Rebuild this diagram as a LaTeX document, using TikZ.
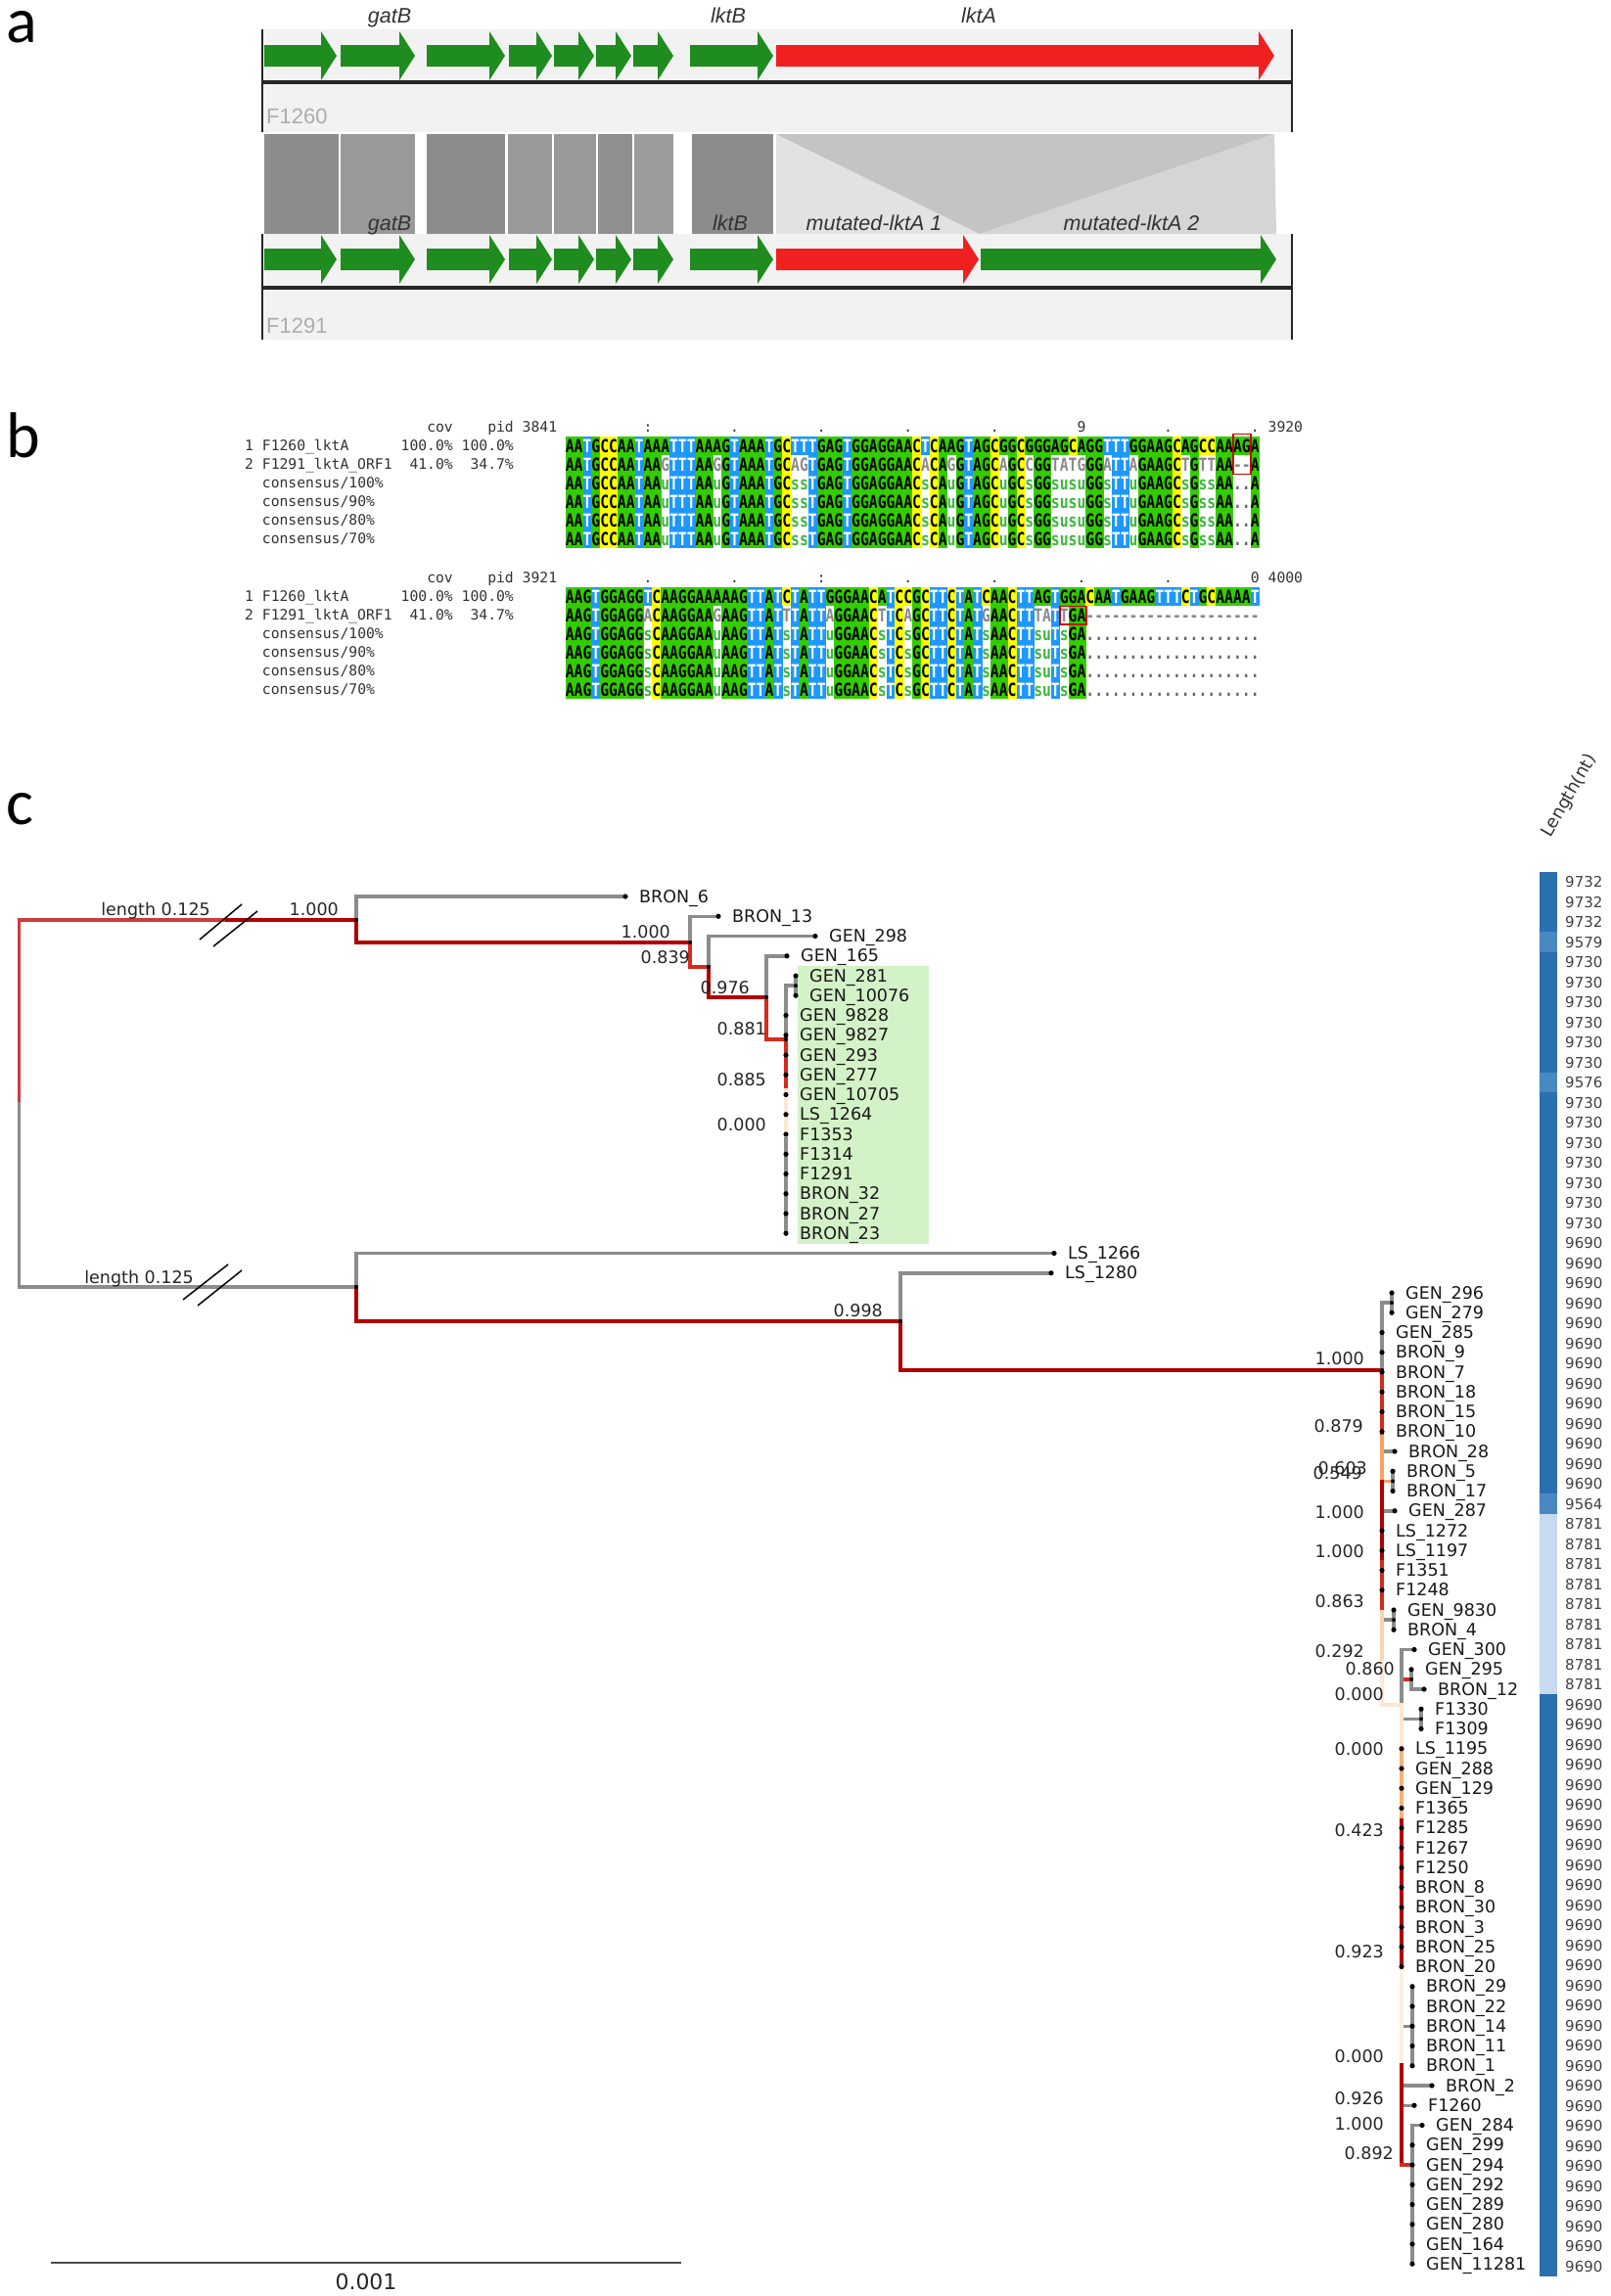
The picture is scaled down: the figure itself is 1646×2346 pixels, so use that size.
\documentclass[tikz,border=0pt]{standalone}
\usepackage{fontspec}
\usepackage{graphicx}
\setmainfont{DejaVu Sans}
\newfontfamily\monof{DejaVu Sans Mono}
\newfontfamily\arialf{Liberation Sans}
\newfontfamily\carlf{Carlito}

\definecolor{tg}{HTML}{8C8C8C}
\definecolor{dr}{HTML}{B20000}
\definecolor{mr}{HTML}{D42B1E}
\definecolor{lr}{HTML}{D03A3A}
\definecolor{orng}{HTML}{F4A460}
\definecolor{sandy}{HTML}{F6B27A}
\definecolor{pch}{HTML}{FBD3AE}
\definecolor{lp}{HTML}{FDE7D2}
\definecolor{vlp}{HTML}{FDF0E2}
\definecolor{hlgreen}{HTML}{D4F2C7}
\definecolor{lendark}{HTML}{2A6FB0}
\definecolor{lenmid}{HTML}{4A88C2}
\definecolor{lenlight}{HTML}{C6DBEF}
\definecolor{ntgreen}{HTML}{33CC00}
\definecolor{ntyellow}{HTML}{FFFF00}
\definecolor{ntblue}{HTML}{1E98FF}
\definecolor{consgreen}{HTML}{3DB83D}
\definecolor{mmgray}{HTML}{8A8A8A}
\definecolor{dotgray}{HTML}{666677}
\definecolor{trackbg}{HTML}{F2F2F2}
\definecolor{geneg}{HTML}{1F8C1F}
\definecolor{gener}{HTML}{F02020}
\definecolor{cmpL}{HTML}{E2E2E2}
\definecolor{cmpM}{HTML}{C4C4C4}
\definecolor{cmpR}{HTML}{D5D5D5}

\tikzset{
  br/.style={line width=3.5pt, line cap=rect, line join=miter},
  tiplab/.style={anchor=base west, inner sep=0pt, text=black!90, font=\fontsize{17.5}{20}\selectfont},
  suplab/.style={anchor=base east, inner sep=0pt, text=black!85, font=\fontsize{17.5}{20}\selectfont},
  lennum/.style={anchor=base west, inner sep=0pt, text=black!75, font=\fontsize{15}{17}\selectfont},
  sqt/.style={anchor=base, inner sep=0pt, font=\monof\bfseries\fontsize{14.7}{16}\selectfont},
  monolab/.style={anchor=base west, inner sep=0pt, text=black!80, font=\monof\fontsize{14.7}{16}\selectfont},
  rulerch/.style={anchor=base, inner sep=0pt, text=black!80, font=\monof\fontsize{14.7}{16}\selectfont},
  genelab/.style={anchor=base, inner sep=0pt, text=black!80, font=\arialf\itshape\fontsize{21.5}{24}\selectfont},
  tracklab/.style={anchor=base west, inner sep=0pt, text=black!32, font=\arialf\fontsize{22}{24}\selectfont},
  panlab/.style={anchor=base west, inner sep=0pt, text height=33pt, text depth=0pt, font=\carlf\fontsize{66}{70}\selectfont},
  brk/.style={line width=1.5pt, black},
}

% ---------- tree helpers
\newcommand\treetip[4]{\coordinate (#1) at (#2,#3); \node[tiplab] (#1l) at ({#2+14},{#3+6.2}) {#4};}
\newcommand\supl[4]{\node[suplab] (#1) at (#2,{#3+6.2}) {#4};}

% ---------- gene arrow
\newcommand\garrow[4]{\fill[#4] (#1,{#3-11}) -- ({#2-16},{#3-11}) -- ({#2-16},{#3-25}) -- (#2,#3) -- ({#2-16},{#3+25}) -- ({#2-16},{#3+11}) -- (#1,{#3+11}) -- cycle;}

% ---------- alignment helpers
\newcount\sqk
\def\sqrun#1#2#3#4{\def\sqpass{#1}\def\sqy{#2}\def\sqname{#3}\sqk=0 \sqloop#4\relax}
\def\sqloop#1{\ifx#1\relax\let\sqnext\relax\else\def\sqnext{\sqcell{#1}\global\advance\sqk by 1 \sqloop}\fi\sqnext}
\def\sqcell#1{\pgfmathsetmacro\sqx{577.8+\the\sqk*8.86}\csname sq\sqpass#1\endcsname}
\def\sqboth#1#2#3{\sqrun{F}{#1}{#2}{#3}\sqrun{T}{#1}{#2}{#3}}
\def\sqbg#1{\fill[#1] (\sqx,\sqy) rectangle ++(9.3,19.4);}
\def\sqtx#1#2{\node[sqt,text=#1] (\sqname-\the\sqk) at ({\sqx+4.43},{\sqy+16.2}) {\scalebox{1}[1.25]{#2}};}
\expandafter\def\csname sqFA\endcsname{\sqbg{ntgreen}}
\expandafter\def\csname sqFG\endcsname{\sqbg{ntgreen}}
\expandafter\def\csname sqFC\endcsname{\sqbg{ntyellow}}
\expandafter\def\csname sqFT\endcsname{\sqbg{ntblue}}
\expandafter\def\csname sqTA\endcsname{\sqtx{black}{A}}
\expandafter\def\csname sqTG\endcsname{\sqtx{black}{G}}
\expandafter\def\csname sqTC\endcsname{\sqtx{black}{C}}
\expandafter\def\csname sqTT\endcsname{\sqtx{white}{T}}
\expandafter\def\csname sqTa\endcsname{\sqtx{mmgray}{A}}
\expandafter\def\csname sqTg\endcsname{\sqtx{mmgray}{G}}
\expandafter\def\csname sqTc\endcsname{\sqtx{mmgray}{C}}
\expandafter\def\csname sqTt\endcsname{\sqtx{mmgray}{T}}
\expandafter\def\csname sqTu\endcsname{\sqtx{consgreen}{u}}
\expandafter\def\csname sqTs\endcsname{\sqtx{consgreen}{s}}
\expandafter\def\csname sqT-\endcsname{\sqtx{mmgray}{-}}
\expandafter\def\csname sqT.\endcsname{\sqtx{dotgray}{.}}
\newcommand\blab[4]{\node[monolab] (#1) at ({250+#2*8.86},#3) {#4};}
\newcommand\rch[4]{\node[rulerch] (#1) at ({577.8+#2*8.86+4.43},#3) {#4};}

\begin{document}
\begin{tikzpicture}[x=1pt,y=-1pt]
\useasboundingbox (0,0) rectangle (1646,2346);
\fill[white] (0,0) rectangle (1646,2346);

% ================= panel a
\node[panlab] (pa) at (6,43) {a};
\fill[trackbg] (268,30) rectangle (1320,135);
\fill[trackbg] (268,239) rectangle (1320,347);
% comparison blocks
\fill[black!45] (270,137) rectangle (346,239);
\fill[black!40] (348,137) rectangle (424,239);
\fill[black!45] (436,137) rectangle (516,239);
\fill[black!40] (519,137) rectangle (564,239);
\fill[black!40] (566,137) rectangle (609,239);
\fill[black!44] (611,137) rectangle (646,239);
\fill[black!39] (648,137) rectangle (688,239);
\fill[black!45] (707,137) rectangle (790,239);
\fill[cmpL] (793,137) -- (1001,239) -- (793,239) -- cycle;
\fill[cmpM] (793,137) -- (1302,137) -- (1001,239) -- cycle;
\fill[cmpR] (1302,137) -- (1304,239) -- (1001,239) -- cycle;
% top track arrows
\garrow{270}{344}{57}{geneg}
\garrow{348}{424}{57}{geneg}
\garrow{436}{516}{57}{geneg}
\garrow{520}{564}{57}{geneg}
\garrow{566}{607}{57}{geneg}
\garrow{609}{645}{57}{geneg}
\garrow{647}{688}{57}{geneg}
\garrow{705}{790}{57}{geneg}
\garrow{793}{1302}{57}{gener}
% bottom track arrows
\garrow{270}{344}{265}{geneg}
\garrow{348}{424}{265}{geneg}
\garrow{436}{516}{265}{geneg}
\garrow{520}{564}{265}{geneg}
\garrow{566}{607}{265}{geneg}
\garrow{609}{645}{265}{geneg}
\garrow{647}{688}{265}{geneg}
\garrow{705}{790}{265}{geneg}
\garrow{793}{1000}{265}{gener}
\garrow{1002}{1304}{265}{geneg}
% baselines and ends
\draw[line width=3.5pt, black!85] (268,84) -- (1320,84);
\draw[line width=3.5pt, black!85] (268,294) -- (1320,294);
\draw[line width=2pt, black!85] (268,30) -- (268,135);
\draw[line width=2pt, black!85] (1320,30) -- (1320,135);
\draw[line width=2pt, black!85] (268,239) -- (268,347);
\draw[line width=2pt, black!85] (1320,239) -- (1320,347);
% labels
\node[genelab] (ga1) at (398,23) {gatB};
\node[genelab] (gb1) at (744,23) {lktB};
\node[genelab] (gc1) at (1000,23) {lktA};
\node[genelab] (ga2) at (398,235) {gatB};
\node[genelab] (gb2) at (746,235) {lktB};
\node[genelab] (gc2) at (893,235) {mutated-lktA 1};
\node[genelab] (gd2) at (1156,235) {mutated-lktA 2};
\node[tracklab] (tr1) at (272,126) {F1260};
\node[tracklab] (tr2) at (272,340) {F1291};

% ================= panel b
\node[panlab] (pb) at (6,467) {b};
% block 1
\blab{h1a}{21}{441.9}{cov}
\blab{h1b}{28}{441.9}{pid}
\blab{h1c}{32}{441.9}{3841}
\blab{h1d}{118}{441.9}{3920}
\rch{r1a}{9}{441.9}{:}
\rch{r1b}{19}{441.9}{.}
\rch{r1c}{29}{441.9}{.}
\rch{r1d}{39}{441.9}{.}
\rch{r1e}{49}{441.9}{.}
\rch{r1f}{59}{441.9}{9}
\rch{r1g}{69}{441.9}{.}
\rch{r1h}{79}{441.9}{.}
\blab{l1a}{0}{460.9}{1 F1260\_lktA}
\blab{l1b}{18}{460.9}{100.0\%}
\blab{l1c}{25}{460.9}{100.0\%}
\blab{l1d}{0}{479.9}{2 F1291\_lktA\_ORF1}
\blab{l1e}{19}{479.9}{41.0\%}
\blab{l1f}{26}{479.9}{34.7\%}
\blab{l1g}{2}{498.9}{consensus/100\%}
\blab{l1h}{2}{517.9}{consensus/90\%}
\blab{l1i}{2}{536.9}{consensus/80\%}
\blab{l1j}{2}{555.9}{consensus/70\%}
\sqboth{446}{a1}{AATGCCAATAAATTTAAAGTAAATGCTTTGAGTGGAGGAACTCAAGTAGCGGCGGGAGCAGGTTTGGAAGCAGCCAAAGA}
\sqboth{465}{a2}{AATGCCAATAAgTTTAAgGTAAATGCagTGAGTGGAGGAACaCAgGTAGCaGCcGGtatgGGaTTaGAAGCtGttAA--A}
\sqboth{484}{a3}{AATGCCAATAAuTTTAAuGTAAATGCssTGAGTGGAGGAACsCAuGTAGCuGCsGGsusuGGsTTuGAAGCsGssAA..A}
\sqboth{503}{a4}{AATGCCAATAAuTTTAAuGTAAATGCssTGAGTGGAGGAACsCAuGTAGCuGCsGGsusuGGsTTuGAAGCsGssAA..A}
\sqboth{522}{a5}{AATGCCAATAAuTTTAAuGTAAATGCssTGAGTGGAGGAACsCAuGTAGCuGCsGGsusuGGsTTuGAAGCsGssAA..A}
\sqboth{541}{a6}{AATGCCAATAAuTTTAAuGTAAATGCssTGAGTGGAGGAACsCAuGTAGCuGCsGGsusuGGsTTuGAAGCsGssAA..A}
\draw[line width=1.5pt, red!80!black] (1260,443.5) rectangle (1278,484.5);
% block 2
\blab{h2a}{21}{595.9}{cov}
\blab{h2b}{28}{595.9}{pid}
\blab{h2c}{32}{595.9}{3921}
\blab{h2d}{118}{595.9}{4000}
\rch{r2a}{9}{595.9}{.}
\rch{r2b}{19}{595.9}{.}
\rch{r2c}{29}{595.9}{:}
\rch{r2d}{39}{595.9}{.}
\rch{r2e}{49}{595.9}{.}
\rch{r2f}{59}{595.9}{.}
\rch{r2g}{69}{595.9}{.}
\rch{r2h}{79}{595.9}{0}
\blab{l2a}{0}{614.9}{1 F1260\_lktA}
\blab{l2b}{18}{614.9}{100.0\%}
\blab{l2c}{25}{614.9}{100.0\%}
\blab{l2d}{0}{633.9}{2 F1291\_lktA\_ORF1}
\blab{l2e}{19}{633.9}{41.0\%}
\blab{l2f}{26}{633.9}{34.7\%}
\blab{l2g}{2}{652.9}{consensus/100\%}
\blab{l2h}{2}{671.9}{consensus/90\%}
\blab{l2i}{2}{690.9}{consensus/80\%}
\blab{l2j}{2}{709.9}{consensus/70\%}
\sqboth{600}{b1}{AAGTGGAGGTCAAGGAAAAAGTTATCTATTGGGAACATCCGCTTCTATCAACTTAGTGGACAATGAAGTTTCTGCAAAAT}
\sqboth{619}{b2}{AAGTGGAGGaCAAGGAAgAAGTTATtTATTaGGAACtTCaGCTTCTATgAACTTtaTtGA--------------------}
\sqboth{638}{b3}{AAGTGGAGGsCAAGGAAuAAGTTATsTATTuGGAACsTCsGCTTCTATsAACTTsuTsGA....................}
\sqboth{657}{b4}{AAGTGGAGGsCAAGGAAuAAGTTATsTATTuGGAACsTCsGCTTCTATsAACTTsuTsGA....................}
\sqboth{676}{b5}{AAGTGGAGGsCAAGGAAuAAGTTATsTATTuGGAACsTCsGCTTCTATsAACTTsuTsGA....................}
\sqboth{695}{b6}{AAGTGGAGGsCAAGGAAuAAGTTATsTATTuGGAACsTCsGCTTCTATsAACTTsuTsGA....................}
\draw[line width=1.5pt, red!80!black] (1083,619.5) rectangle (1110,638);

% ================= panel c
\node[panlab] (pc) at (6,842) {c};
\fill[hlgreen] (815,987) rectangle (949,1271);

% tips
\treetip{t1}{639}{916}{BRON\_6}
\treetip{t2}{734}{936.25}{BRON\_13}
\treetip{t3}{833}{956.5}{GEN\_298}
\treetip{t4}{804}{976.75}{GEN\_165}
\treetip{t5}{813}{997}{GEN\_281}
\treetip{t6}{813}{1017.25}{GEN\_10076}
\treetip{t7}{803}{1037.5}{GEN\_9828}
\treetip{t8}{803}{1057.75}{GEN\_9827}
\treetip{t9}{803}{1078}{GEN\_293}
\treetip{t10}{803}{1098.25}{GEN\_277}
\treetip{t11}{803}{1118.5}{GEN\_10705}
\treetip{t12}{803}{1138.75}{LS\_1264}
\treetip{t13}{803}{1159}{F1353}
\treetip{t14}{803}{1179.25}{F1314}
\treetip{t15}{803}{1199.5}{F1291}
\treetip{t16}{803}{1219.75}{BRON\_32}
\treetip{t17}{803}{1240}{BRON\_27}
\treetip{t18}{803}{1260.25}{BRON\_23}
\treetip{t19}{1077}{1280.5}{LS\_1266}
\treetip{t20}{1074}{1300.75}{LS\_1280}
\treetip{t21}{1422}{1321}{GEN\_296}
\treetip{t22}{1422}{1341.25}{GEN\_279}
\treetip{t23}{1412}{1361.5}{GEN\_285}
\treetip{t24}{1412}{1381.75}{BRON\_9}
\treetip{t25}{1412}{1402}{BRON\_7}
\treetip{t26}{1412}{1422.25}{BRON\_18}
\treetip{t27}{1412}{1442.5}{BRON\_15}
\treetip{t28}{1412}{1462.75}{BRON\_10}
\treetip{t29}{1425}{1483}{BRON\_28}
\treetip{t30}{1423}{1503.25}{BRON\_5}
\treetip{t31}{1423}{1523.5}{BRON\_17}
\treetip{t32}{1425}{1543.75}{GEN\_287}
\treetip{t33}{1412}{1564}{LS\_1272}
\treetip{t34}{1412}{1584.25}{LS\_1197}
\treetip{t35}{1412}{1604.5}{F1351}
\treetip{t36}{1412}{1624.75}{F1248}
\treetip{t37}{1424}{1645}{GEN\_9830}
\treetip{t38}{1424}{1665.25}{BRON\_4}
\treetip{t39}{1445}{1685.5}{GEN\_300}
\treetip{t40}{1442}{1705.75}{GEN\_295}
\treetip{t41}{1455}{1726}{BRON\_12}
\treetip{t42}{1452}{1746.25}{F1330}
\treetip{t43}{1452}{1766.5}{F1309}
\treetip{t44}{1432}{1786.75}{LS\_1195}
\treetip{t45}{1432}{1807}{GEN\_288}
\treetip{t46}{1432}{1827.25}{GEN\_129}
\treetip{t47}{1432}{1847.5}{F1365}
\treetip{t48}{1432}{1867.75}{F1285}
\treetip{t49}{1432}{1888}{F1267}
\treetip{t50}{1432}{1908.25}{F1250}
\treetip{t51}{1432}{1928.5}{BRON\_8}
\treetip{t52}{1432}{1948.75}{BRON\_30}
\treetip{t53}{1432}{1969}{BRON\_3}
\treetip{t54}{1432}{1989.25}{BRON\_25}
\treetip{t55}{1432}{2009.5}{BRON\_20}
\treetip{t56}{1443}{2029.75}{BRON\_29}
\treetip{t57}{1443}{2050}{BRON\_22}
\treetip{t58}{1443}{2070.25}{BRON\_14}
\treetip{t59}{1443}{2090.5}{BRON\_11}
\treetip{t60}{1443}{2110.75}{BRON\_1}
\treetip{t61}{1463}{2131}{BRON\_2}
\treetip{t62}{1445}{2151.25}{F1260}
\treetip{t63}{1453}{2171.5}{GEN\_284}
\treetip{t64}{1443}{2191.75}{GEN\_299}
\treetip{t65}{1443}{2212}{GEN\_294}
\treetip{t66}{1443}{2232.25}{GEN\_292}
\treetip{t67}{1443}{2252.5}{GEN\_289}
\treetip{t68}{1443}{2272.75}{GEN\_280}
\treetip{t69}{1443}{2293}{GEN\_164}
\treetip{t70}{1443}{2313.25}{GEN\_11281}

% internal nodes
\coordinate (root) at (19.5,1127.5);
\coordinate (nAb) at (232,940);
\coordinate (nA) at (364,940);
\coordinate (nB) at (364,1315);
\coordinate (n2) at (705,963);
\coordinate (n3) at (724,988);
\coordinate (n4) at (783,1019);
\coordinate (n5) at (803,1062);
\coordinate (s1) at (813,1007.1);
\coordinate (n6) at (803,1114);
\coordinate (n7) at (803,1160);
\coordinate (nC) at (920,1350);
\coordinate (nD) at (1412,1400);
\coordinate (s2) at (1422,1331.1);
\coordinate (n879) at (1412,1468);
\coordinate (n549) at (1412,1514);
\coordinate (s3) at (1423,1513.4);
\coordinate (na1) at (1412,1556);
\coordinate (na2) at (1412,1596);
\coordinate (n863) at (1412,1647);
\coordinate (s4) at (1424,1655.1);
\coordinate (n292) at (1412,1698);
\coordinate (n000a) at (1432,1742);
\coordinate (s5) at (1442,1715.9);
\coordinate (s6) at (1452,1756.4);
\coordinate (m1) at (1432,1787);
\coordinate (m2) at (1432,1860);
\coordinate (n923) at (1432,2010);
\coordinate (s7) at (1443,2070.25);
\coordinate (n000c) at (1432,2110);
\coordinate (n892b) at (1432,2212);
\coordinate (s8) at (1443,2212);

% root and top clade
\draw[br,lr] (root) |- (nAb);
\draw[br,dr] (nAb) -- (nA);
\draw[br,tg] (root) |- (nB);
\draw[br,tg] (nA) |- (t1);
\draw[br,tg] (n2) |- (t2);
\draw[br,tg] (n3) |- (t3);
\draw[br,tg] (n4) |- (t4);
\draw[br,tg] (n5) |- (s1);
\draw[br,tg] (t5) -- (t6);
\draw[br,tg] (n7) -- (t18);
\draw[br,dr] (nA) |- (n2);
\draw[br,mr] (n2) |- (n3);
\draw[br,dr] (n3) |- (n4);
\draw[br,mr] (n4) |- (n5);
\draw[br,mr] (n5) -- (n6);
\draw[br,lp] (n6) -- (n7);

% lower clade
\draw[br,tg] (nB) |- (t19);
\draw[br,dr] (nB) |- (nC);
\draw[br,tg] (nC) |- (t20);
\draw[br,dr] (nC) |- (nD);
\draw[br,tg] (nD) |- (s2);
\draw[br,tg] (t21) -- (t22);
\draw[br,tg] (n879) |- (t29);
\draw[br,tg] (t30) -- (t31);
\draw[br,tg] (n549) |- (t32);
\draw[br,tg] (n863) |- (s4);
\draw[br,tg] (t37) -- (t38);
\draw[br,mr] (nD) -- (n879);
\draw[br,orng] (n879) -- (n549);
\draw[br,orng] (n549) |- (s3);
\draw[br,dr] (n549) -- (na1) -- (na2);
\draw[br,mr] (na2) -- (n863);
\draw[br,pch] (n863) -- (n292);
\draw[br,lp] (n292) |- (n000a);
\draw[br,mr] (n000a) |- (s5);
\draw[br,tg] (n000a) |- (t39);
\draw[br,tg] (t40) |- (t41);
\draw[br,tg] (n000a) |- (s6);
\draw[br,tg] (t42) -- (t43);
\draw[br,tg] (n923) |- (s7);
\draw[br,tg] (t56) -- (t60);
\draw[br,tg] (n000c) |- (t61);
\draw[br,tg] (n000c) |- (t62);
\draw[br,tg] (s8) |- (t63);
\draw[br,tg] (s8) -- (t70);
\draw[br,lp] (n000a) -- (m1);
\draw[br,sandy] (m1) -- (m2);
\draw[br,dr] (m2) -- (n923);
\draw[br,vlp] (n923) -- (n000c);
\draw[br,dr] (n000c) -- (n892b);
\draw[br,mr] (n892b) -- (s8);

% dots
\foreach \k in {1,...,70} {\fill[black] (t\k) circle[radius=2.6];}
\foreach \c in {nA,nB,n2,n3,n4,n5,nC,nD,s1,s2,s3,s4,s5,s6,s7,s8} {\fill[black] (\c) circle[radius=2];}

% break marks
\coordinate (bk1a) at (204,960); \coordinate (bk1b) at (247,924);
\coordinate (bk1c) at (218,967); \coordinate (bk1d) at (263,931);
\coordinate (bk2a) at (187,1328); \coordinate (bk2b) at (233,1292);
\coordinate (bk2c) at (202,1334); \coordinate (bk2d) at (247,1298);
\draw[brk] (bk1a) -- (bk1b);
\draw[brk] (bk1c) -- (bk1d);
\draw[brk] (bk2a) -- (bk2b);
\draw[brk] (bk2c) -- (bk2d);
\node[suplab] (len1) at (215,935) {length 0.125};
\node[suplab] (len2) at (198,1311) {length 0.125};

% support values
\supl{sA}{346}{929}{1.000}
\supl{s2l}{685}{952}{1.000}
\supl{s3l}{705}{978}{0.839}
\supl{s4l}{766}{1009}{0.976}
\supl{s5l}{783}{1051}{0.881}
\supl{s6l}{783}{1103}{0.885}
\supl{s7l}{783}{1149}{0.000}
\supl{sCl}{902}{1339}{0.998}
\supl{sDl}{1394}{1388}{1.000}
\supl{s879}{1393}{1457}{0.879}
\supl{s603}{1397}{1500}{0.603}
\supl{s549}{1392}{1505}{0.549}
\supl{sa1}{1394}{1545}{1.000}
\supl{sa2}{1394}{1585}{1.000}
\supl{s863}{1394}{1636}{0.863}
\supl{s292}{1394}{1687}{0.292}
\supl{s860}{1425}{1705}{0.860}
\supl{s000a}{1414}{1731}{0.000}
\supl{s000b}{1414}{1787}{0.000}
\supl{s423}{1414}{1870}{0.423}
\supl{s923}{1414}{1994}{0.923}
\supl{s000c}{1414}{2101}{0.000}
\supl{s926}{1414}{2144}{0.926}
\supl{s1000c}{1414}{2170}{1.000}
\supl{s892}{1424}{2200}{0.892}

% scale bar
\coordinate (sb1) at (52,2312);
\coordinate (sb2) at (696,2312);
\draw[line width=2pt, black!70] (sb1) -- (sb2);
\node[anchor=base, inner sep=0pt, text=black!85, font=\fontsize{22}{24}\selectfont] (sbl) at (374,2339) {0.001};

% length column
\node[anchor=base west, inner sep=0pt, rotate=60, text=black!80, font=\fontsize{18}{20}\selectfont] (lenhdr) at (1584,857) {Length(nt)};
\foreach \v [count=\i] in {9732,9732,9732,9579,9730,9730,9730,9730,9730,9730,9576,9730,9730,9730,9730,9730,9730,9730,9690,9690,9690,9690,9690,9690,9690,9690,9690,9690,9690,9690,9690,9564,8781,8781,8781,8781,8781,8781,8781,8781,8781,9690,9690,9690,9690,9690,9690,9690,9690,9690,9690,9690,9690,9690,9690,9690,9690,9690,9690,9690,9690,9690,9690,9690,9690,9690,9690,9690,9690,9690}{
  \pgfmathsetmacro\yc{901+(\i-1)*20.5}
  \ifnum\v=8781 \def\lc{lenlight}\else\ifnum\v<9600 \def\lc{lenmid}\else\def\lc{lendark}\fi\fi
  \fill[\lc] (1573,{\yc-10.25}) rectangle (1591,{\yc+10.6});
  \node[lennum] (len\i) at (1599,{\yc+5.5}) {\v};
}
\end{tikzpicture}
\end{document}
